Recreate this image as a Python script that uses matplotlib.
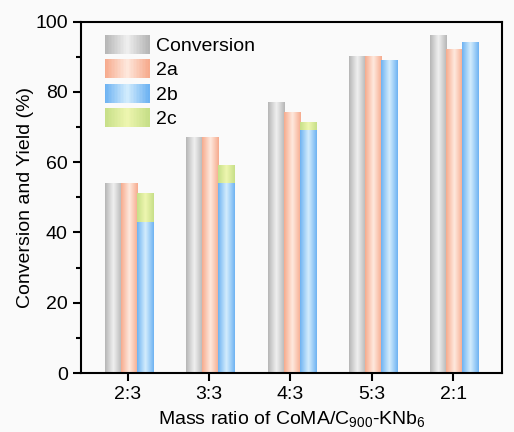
import numpy as np
import matplotlib
matplotlib.use('Agg')
import matplotlib.pyplot as plt
from matplotlib.colors import LinearSegmentedColormap
from matplotlib.legend_handler import HandlerBase
from matplotlib.patches import Rectangle, Patch
from matplotlib.ticker import MultipleLocator

plt.rcParams['font.family'] = ['Liberation Sans', 'DejaVu Sans']
plt.rcParams['mathtext.default'] = 'regular'
plt.rcParams['font.size'] = 14

ratios = ['2:3', '3:3', '4:3', '5:3', '2:1']
conversion = [54, 67, 77, 90, 96]
yield_2a = [54, 67, 74, 90, 92]
yield_2b = [43, 54, 69, 89, 94]
yield_2c = [8, 5, 2, 0, 0]

# edge colour, centre colour for each series
grads = {
    'Conversion': ('#b6b6b6', '#f0f0f0'),
    '2a': ('#f6ab8e', '#fee9de'),
    '2b': ('#6fb3f2', '#d4edfd'),
    '2c': ('#c7df88', '#eef6b0'),
}


def make_cmap(name):
    edge, mid = grads[name]
    return LinearSegmentedColormap.from_list(name, [edge, mid, edge])


def grad_bars(ax, bars, name):
    cmap = make_cmap(name)
    row = np.linspace(0, 1, 64).reshape(1, -1)
    for b in bars:
        x, y = b.get_x(), b.get_y()
        w, h = b.get_width(), b.get_height()
        if h <= 0:
            continue
        b.set_visible(False)
        ax.imshow(row, cmap=cmap, extent=(x, x + w, y, y + h),
                  aspect='auto', origin='lower', zorder=2)


class GradHandler(HandlerBase):
    def create_artists(self, legend, orig_handle, xdescent, ydescent,
                       width, height, fontsize, trans):
        cmap = make_cmap(orig_handle.get_label())
        n = 30
        arts = []
        for i in range(n):
            r = Rectangle((-xdescent + width * i / n, -ydescent), width / n + 0.3,
                          height, facecolor=cmap(i / (n - 1)),
                          edgecolor='none', transform=trans)
            arts.append(r)
        return arts


fig = plt.figure(figsize=(5.14, 4.32), dpi=100, facecolor='#fafafa')
ax = fig.add_axes([81 / 514, 1 - 373 / 432, 421 / 514, 351.5 / 432])
ax.set_facecolor('#fafafa')

x = np.arange(len(ratios)) + 0.015
w = 0.197
b1 = ax.bar(x - w, conversion, w)
b2 = ax.bar(x, yield_2a, w)
b3 = ax.bar(x + w, yield_2b, w)
b4 = ax.bar(x + w, yield_2c, w, bottom=yield_2b)
grad_bars(ax, b1, 'Conversion')
grad_bars(ax, b2, '2a')
grad_bars(ax, b3, '2b')
grad_bars(ax, b4, '2c')

ax.set_xlim(-0.575, 4.6)
ax.set_ylim(0, 100)
ax.set_xticks(np.arange(len(ratios)))
ax.set_xticklabels(ratios)
ax.set_yticks(range(0, 101, 20))
ax.yaxis.set_minor_locator(MultipleLocator(10))
ax.tick_params(which='major', direction='out', length=6, width=1.5, labelsize=14)
ax.tick_params(which='minor', direction='out', length=3.5, width=1.5)
for s in ax.spines.values():
    s.set_linewidth(1.5)

ax.set_xlabel('Mass ratio of CoMA/C$_{900}$-KNb$_6$', fontsize=14, labelpad=4)
ax.set_ylabel('Conversion and Yield (%)', fontsize=14, labelpad=1)

handles = [Patch(label=n) for n in ['Conversion', '2a', '2b', '2c']]
ax.legend(handles=handles, handler_map={Patch: GradHandler()},
          loc='upper left', bbox_to_anchor=(24 / 421, 1 - 13.5 / 351.5),
          frameon=False, borderpad=0, borderaxespad=0,
          handlelength=2.27, handleheight=1.12, labelspacing=0.22,
          handletextpad=0.36, fontsize=14)

fig.savefig('out.png', dpi=100, facecolor=fig.get_facecolor())
